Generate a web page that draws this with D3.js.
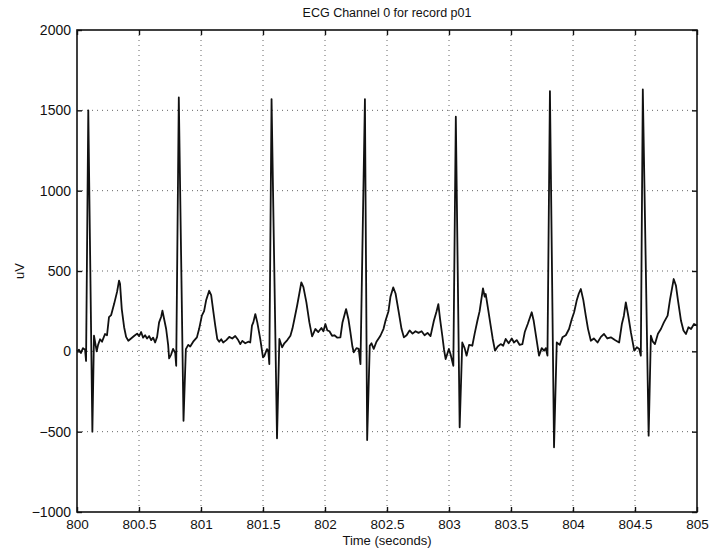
<!DOCTYPE html>
<html><head><meta charset="utf-8">
<script src="https://cdn.jsdelivr.net/npm/d3@7"></script>
<style>
body{margin:0;background:#fff}
svg{display:block}
text{font-family:"Liberation Sans",Arial,Helvetica,sans-serif;fill:#111}
</style>
</head><body><svg id="c" width="711" height="550"></svg>
<script>
// ---- data ----
const timeS = [
800.000,800.016,800.032,800.048,800.065,800.073,800.091,800.124,800.137,800.159,800.170,800.186,800.202,800.226,800.242,800.258,800.275,800.299,800.323,800.339,800.347,800.361,800.380,800.396,800.414,800.436,800.460,800.485,800.501,800.517,800.533,800.549,800.565,800.582,800.598,800.614,800.630,800.646,800.662,800.679,800.689,800.703,800.719,800.735,800.743,800.759,800.775,800.792,800.800,800.821,800.859,800.878,800.897,800.913,800.937,800.967,800.985,801.007,801.025,801.042,801.066,801.082,801.099,801.115,801.131,801.147,801.163,801.179,801.204,801.228,801.252,801.276,801.300,801.317,801.333,801.357,801.381,801.397,801.411,801.422,801.438,801.454,801.478,801.500,801.510,801.532,801.543,801.551,801.569,801.613,801.632,801.654,801.672,801.696,801.721,801.737,801.753,801.775,801.793,801.809,801.826,801.850,801.874,801.896,801.906,801.922,801.946,801.971,801.987,802.003,802.019,802.036,802.057,802.076,802.100,802.124,802.141,802.170,802.189,802.205,802.221,802.232,802.254,802.272,802.286,802.322,802.340,802.361,802.375,802.393,802.415,802.447,802.472,802.488,802.512,802.528,802.550,802.569,802.595,802.617,802.636,802.658,802.682,802.706,802.730,802.754,802.779,802.803,802.827,802.851,802.878,802.900,802.914,802.928,802.946,802.960,802.973,802.999,803.013,803.035,803.055,803.086,803.107,803.126,803.142,803.162,803.188,803.207,803.229,803.247,803.274,803.288,803.296,803.316,803.336,803.352,803.371,803.393,803.417,803.437,803.457,803.481,803.506,803.524,803.546,803.570,803.592,803.611,803.635,803.667,803.683,803.699,803.726,803.748,803.767,803.780,803.794,803.814,803.847,803.869,803.893,803.915,803.942,803.968,803.990,804.009,804.031,804.047,804.063,804.083,804.103,804.121,804.144,804.168,804.198,804.225,804.250,804.277,804.305,804.338,804.372,804.394,804.410,804.426,804.446,804.467,804.494,804.515,804.534,804.547,804.563,804.610,804.628,804.644,804.661,804.685,804.709,804.733,804.763,804.782,804.812,804.830,804.846,804.871,804.891,804.911,804.931,804.952,804.976,805.000
];
const ecgUV = [
0,10,-10,20,10,-60,1500,-500,97,0,40,75,60,108,100,213,225,294,370,440,420,263,150,90,66,80,95,110,95,120,85,100,80,95,70,85,55,90,180,215,253,200,139,40,-44,-20,15,-10,-90,1580,-432,14,40,30,60,87,140,222,250,320,377,350,250,160,77,60,75,55,70,90,80,95,70,45,65,50,60,55,160,180,232,180,76,-38,-30,14,0,-80,1570,-541,77,25,50,70,97,140,200,284,360,429,400,305,180,93,110,139,120,145,125,170,130,125,97,100,85,87,180,263,200,118,30,-6,20,15,-80,1570,-552,35,50,15,60,97,140,190,250,340,398,360,243,140,87,100,130,110,125,115,125,100,115,95,190,250,294,200,97,10,-48,15,-20,-90,1460,-473,55,20,-27,40,35,110,190,250,392,340,357,260,160,80,4,30,45,35,77,50,80,55,70,40,45,120,170,243,190,108,-27,20,4,20,-27,1620,-597,55,40,87,100,139,200,243,320,360,388,320,222,140,66,80,55,90,108,80,87,70,55,170,220,305,220,118,4,25,15,-27,1630,-525,97,60,45,110,139,180,222,320,450,410,320,190,130,108,150,139,170,160
];
const xTicks = [800,800.5,801,801.5,802,802.5,803,803.5,804,804.5,805];
const yTicks = [-1000,-500,0,500,1000,1500,2000];
const titleText = "ECG Channel 0 for record p01";
const xLabel = "Time (seconds)";
const yLabel = "uV";

// ---- layout ----
const W = 711, H = 550;
const m = {left: 77, right: 14, top: 30, bottom: 38};
const iw = W - m.left - m.right, ih = H - m.top - m.bottom;

const svg = d3.select("#c");
const g = svg.append("g").attr("transform", `translate(${m.left},${m.top})`);

const x = d3.scaleLinear().domain([800, 805]).range([0, iw]);
const y = d3.scaleLinear().domain([-1000, 2000]).range([ih, 0]);

// grid
g.append("g").selectAll("line").data(xTicks.slice(1, -1)).join("line")
  .attr("x1", d => x(d)).attr("x2", d => x(d)).attr("y1", 0).attr("y2", ih)
  .attr("stroke", "#666").attr("stroke-width", 1).attr("stroke-dasharray", "1,4");
g.append("g").selectAll("line").data(yTicks.slice(1, -1)).join("line")
  .attr("y1", d => y(d)).attr("y2", d => y(d)).attr("x1", 0).attr("x2", iw)
  .attr("stroke", "#666").attr("stroke-width", 1).attr("stroke-dasharray", "1,4");

// data line
const pts = timeS.map((t, i) => [t, ecgUV[i]]);
g.append("path").datum(pts)
  .attr("fill", "none").attr("stroke", "#111").attr("stroke-width", 1.8)
  .attr("stroke-linejoin", "round")
  .attr("d", d3.line().x(d => x(d[0])).y(d => y(d[1])));

// axes
const fmtY = d => d < 0 ? "\u2212" + Math.abs(d) : String(d);
const xb = g.append("g").attr("transform", `translate(0,${ih})`)
  .call(d3.axisBottom(x).tickValues(xTicks).tickFormat(d => String(d)).tickSizeInner(-5).tickSizeOuter(0).tickPadding(7));
const xt = g.append("g")
  .call(d3.axisTop(x).tickValues(xTicks).tickFormat("").tickSizeInner(-5).tickSizeOuter(0));
const yl = g.append("g")
  .call(d3.axisLeft(y).tickValues(yTicks).tickFormat(fmtY).tickSizeInner(-5).tickSizeOuter(0).tickPadding(6));
const yr = g.append("g").attr("transform", `translate(${iw},0)`)
  .call(d3.axisRight(y).tickValues(yTicks).tickFormat("").tickSizeInner(-5).tickSizeOuter(0));
[xb, xt, yl, yr].forEach(a => {
  a.select(".domain").remove();
  a.selectAll(".tick line").attr("stroke", "#111").attr("stroke-width", 1.4);
  a.selectAll("text").attr("font-size", 13.5).attr("fill", "#111")
    .style("font-family", '"Liberation Sans",Arial,sans-serif');
});
yl.selectAll("text").attr("font-size", 14);

// box
g.append("rect").attr("x", 0).attr("y", 0).attr("width", iw).attr("height", ih)
  .attr("fill", "none").attr("stroke", "#111").attr("stroke-width", 1.6);

// titles
svg.append("text").attr("x", m.left + iw / 2).attr("y", 17).attr("text-anchor", "middle")
  .attr("font-size", 12.5).text(titleText);
svg.append("text").attr("x", m.left + iw / 2).attr("y", 545).attr("text-anchor", "middle")
  .attr("font-size", 13).text(xLabel);
svg.append("text").attr("transform", `translate(24,${m.top + ih / 2}) rotate(-90)`)
  .attr("text-anchor", "middle").attr("font-size", 13).text(yLabel);
</script>
</body></html>
